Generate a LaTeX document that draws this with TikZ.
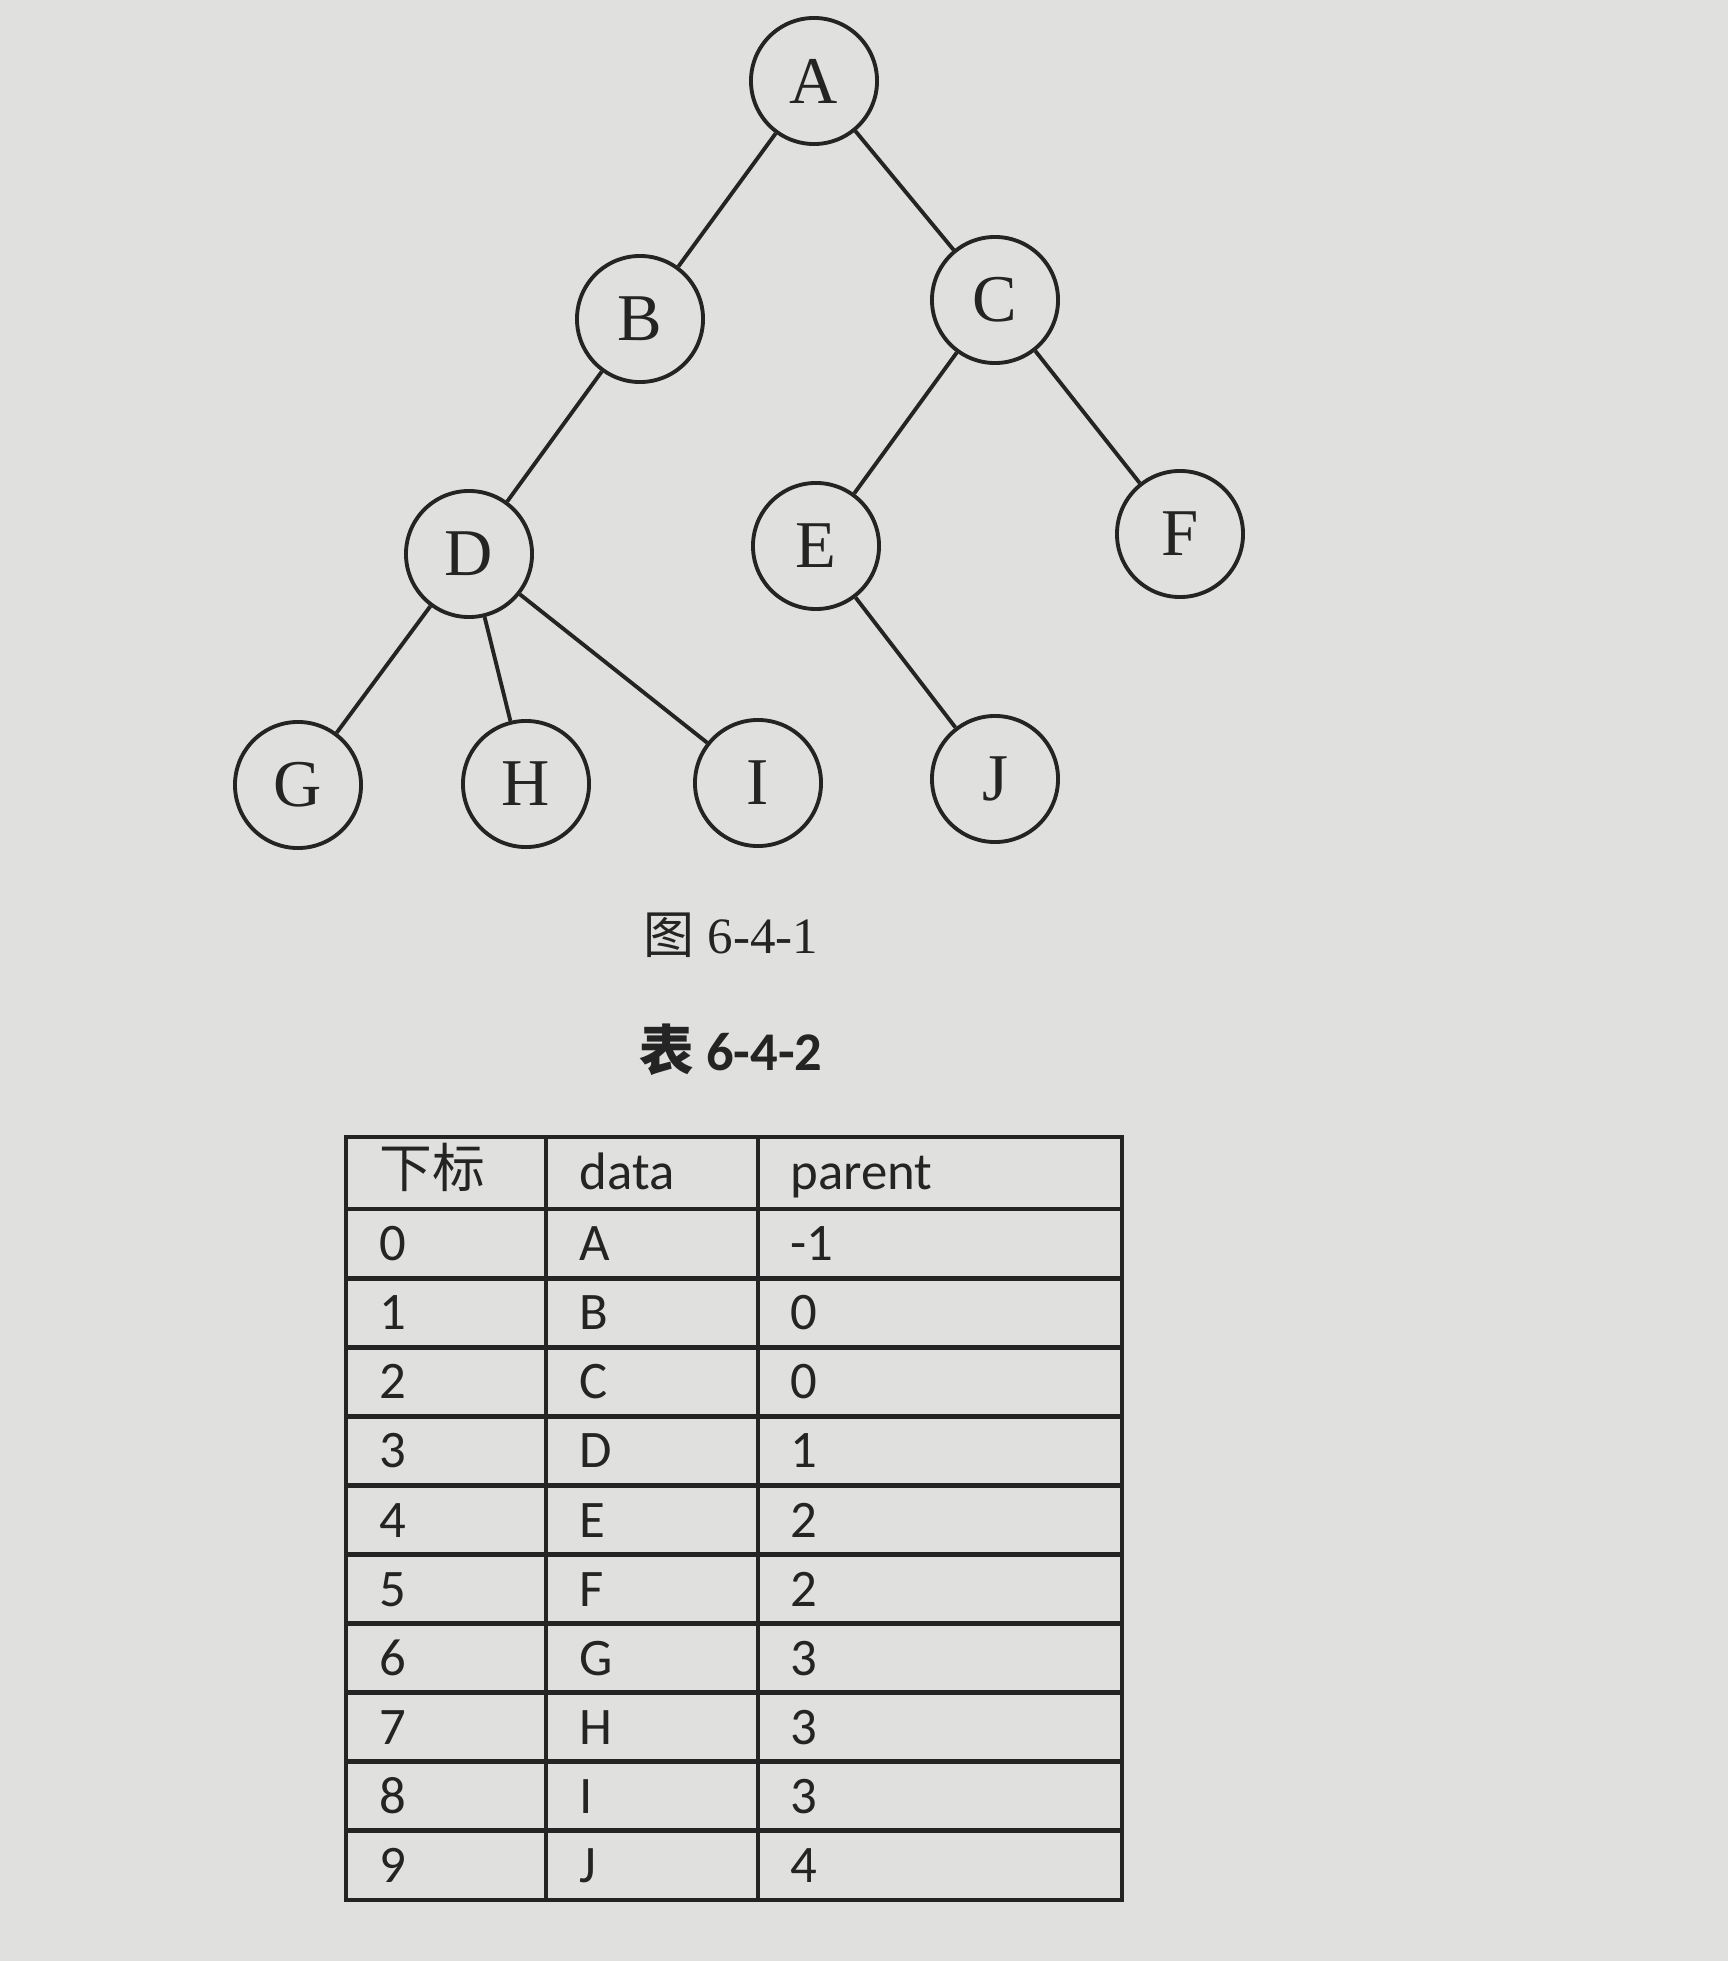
\documentclass[tikz,border=0pt]{standalone}
\usepackage{fontspec}
\setmainfont{Liberation Serif}
\newfontfamily\tabfont{Carlito}
\newfontfamily\cjk{Noto Sans CJK SC}
\usetikzlibrary{positioning}

\definecolor{paper}{RGB}{224,225,222}
\definecolor{ink}{RGB}{36,36,36}

\begin{document}
\begin{tikzpicture}[
            x=0.01cm, y=-0.01cm, % one unit is one pixel of the reference
            every node/.style={text=ink},
            vertex/.style={
                circle,
                draw=ink,
                line width=1.1pt,
                minimum size=1.26cm,
                inner sep=0pt,
                font=\fontsize{19}{19}\selectfont
            },
            branch/.style={draw=ink, line width=1.1pt},
            cell/.style={
                anchor=west,
                inner sep=0pt,
                text height=0.63em,
                text depth=0pt,
                font=\tabfont\fontsize{15}{15}\selectfont
            },
            rule/.style={draw=ink, line width=1.4pt}
        ]
        \fill[paper] (0,0) rectangle (1728,1961);
        \useasboundingbox (0,0) rectangle (1728,1961);

        % the tree
        \node[vertex] (A) at (814,81) {A};
        \node[vertex] (B) at (640,319) {B};
        \node[vertex] (C) at (995,300) {C};
        \node[vertex] (D) at (469,554) {D};
        \node[vertex] (E) at (816,546) {E};
        \node[vertex] (F) at (1180,534) {F};
        \node[vertex] (G) at (298,785) {G};
        \node[vertex] (H) at (526,784) {H};
        \node[vertex] (I) at (758,783) {I};
        \node[vertex] (J) at (995,779) {J};
        \path[branch]
            (A) edge (B)
            (A) edge (C)
            (B) edge (D)
            (C) edge (E)
            (C) edge (F)
            (D) edge (G)
            (D) edge (H)
            (D) edge (I)
            (E) edge (J);

        % captions
        \node[font=\fontsize{14.5}{15}\selectfont] (figcap) at (731,935) {{\cjk 图} 6-4-1};
        \node[font=\tabfont\bfseries\fontsize{15.5}{16}\selectfont] (tabcap) at (731,1050) {{\cjk\bfseries 表} 6-4-2};

        % the table
        \coordinate (tl) at (346,1137);
        \coordinate (br) at (1122,1900);
        \draw[rule] (tl) rectangle (br);
        \draw[rule] (546,1137) -- (546,1900);
        \draw[rule] (758,1137) -- (758,1900);
        \foreach \k in {0,...,9}
            \draw[rule] (346,{1209+69.1*\k}) -- (1122,{1209+69.1*\k});
        \node[cell] (idxhead) at (379,1176) {{\cjk 下标}};
        \node[cell] (dathead) at (579,1178) {data};
        \node[cell] (parhead) at (790,1178) {parent};
        \foreach \i/\d/\p in {0/A/-1, 1/B/0, 2/C/0, 3/D/1, 4/E/2,
                              5/F/2, 6/G/3, 7/H/3, 8/I/3, 9/J/4} {
            \node[cell] (idx\i) at (379,{1215+69.1*(\i+0.5)}) {\i};
            \node[cell] (dat\i) at (579,{1215+69.1*(\i+0.5)}) {\d};
            \node[cell] (par\i) at (790,{1215+69.1*(\i+0.5)}) {\p};
        }
    \end{tikzpicture}
\end{document}
